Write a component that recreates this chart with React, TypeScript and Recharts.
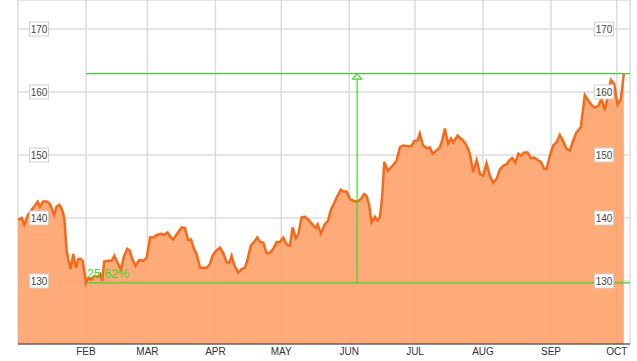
import React from "react";
import {
  ComposedChart,
  Area,
  XAxis,
  YAxis,
  CartesianGrid,
  ReferenceLine,
  ReferenceDot,
} from "recharts";

// day index since Jan 1
const days = [
  0, 1.7, 2.9, 4.4, 5.6, 9.0, 10.0, 11.5, 13.1, 14.6, 16.5, 17.6, 18.8, 19.9, 21.1, 22.2, 22.9, 24.0, 25.2, 26.4,
  27.5, 28.6, 29.5, 31.0, 32.0, 33.3, 34.8, 36.3, 37.4, 38.4, 39.3, 40.9, 42.7, 43.9, 45.4, 46.9, 48.4, 49.8, 51.0,
  52.1, 53.6, 55.2, 57.1, 58.7, 60.2, 61.7, 63.2, 65.2, 66.5, 68.2, 69.7, 70.8, 72.3, 74.6, 76.1, 77.6, 78.9, 80.2,
  81.4, 83.0, 86.0, 87.5, 88.7, 90.2, 92.1, 93.6, 95.1, 96.3, 97.4, 98.4, 100.4, 102.0, 103.5, 104.7, 106.1, 107.6,
  109.1, 110.3, 111.8, 113.4, 114.9, 116.4, 117.9, 119.4, 120.9, 122.5, 124.0, 125.2, 126.7, 127.8, 129.3, 130.8,
  132.8, 134.6, 135.7, 136.6, 138.1, 139.9, 141.4, 142.7, 143.7, 145.3, 147.2, 148.3, 149.8, 151.3, 153.3, 154.8,
  156.3, 157.8, 158.9, 160.0, 161.2, 162.7, 163.9, 165.0, 166.0, 167.0, 168.5, 170.3, 172.6, 174.1, 175.6, 177.9,
  179.4, 180.6, 182.2, 183.2, 184.5, 186.3, 187.8, 189.0, 190.8, 192.3, 193.4, 194.6, 196.1, 197.4, 198.4, 200.4,
  201.5, 203.0, 204.5, 206.0, 207.5, 209.1, 210.6, 212.1, 213.6, 215.1, 216.6, 218.2, 219.7, 221.2, 222.7, 223.9,
  225.3, 226.8, 228.1, 229.3, 230.8, 232.3, 233.8, 235.3, 236.9, 238.4, 239.9, 241.0, 242.5, 244.0, 245.5, 247.0,
  248.5, 250.1, 251.6, 253.1, 254.6, 256.6, 258.4, 259.9, 261.5, 263.0, 264.8, 266.0, 267.5, 268.8, 270.3, 271.8,
  273.3, 274.8, 276.2,
];

const prices = [
  139.7, 140.0, 138.9, 140.4, 141.0, 142.6, 141.8, 142.6, 142.6, 142.2, 140.5, 141.8, 142.1, 141.5, 140.1, 134.8,
  133.5, 131.9, 134.3, 132.1, 133.5, 133.5, 133.2, 129.7, 130.5, 130.2, 130.8, 130.6, 131.1, 130.0, 133.1, 133.2,
  133.2, 134.0, 132.9, 131.8, 134.0, 135.1, 134.8, 133.5, 132.4, 133.3, 133.2, 133.7, 136.9, 136.9, 137.3, 137.5,
  137.3, 137.7, 136.9, 136.6, 137.4, 138.5, 138.4, 136.5, 136.6, 135.1, 134.3, 132.1, 132.1, 132.7, 134.0, 134.8,
  135.3, 134.4, 133.0, 132.9, 134.0, 132.7, 131.3, 131.9, 132.1, 133.5, 135.6, 136.2, 136.9, 136.2, 136.1, 134.4,
  134.5, 135.1, 136.2, 136.2, 136.9, 135.8, 135.6, 138.5, 136.8, 137.4, 140.1, 140.2, 139.6, 138.8, 138.4, 139.0,
  137.5, 139.0, 139.6, 141.4, 142.0, 143.3, 144.5, 144.2, 144.2, 143.0, 142.7, 142.6, 143.0, 143.8, 143.5, 142.2,
  139.3, 140.2, 139.6, 140.1, 143.3, 148.9, 147.5, 148.1, 149.1, 151.2, 151.5, 151.4, 151.4, 152.2, 152.3, 153.4,
  151.6, 151.1, 151.2, 150.2, 150.7, 151.2, 152.3, 154.2, 151.8, 152.6, 152.0, 153.1, 152.7, 152.3, 151.5, 150.2,
  147.3, 149.2, 147.0, 146.7, 148.7, 146.7, 145.6, 146.2, 147.7, 148.3, 148.5, 149.1, 149.5, 148.8, 150.2, 149.9,
  150.4, 150.4, 149.5, 149.6, 149.2, 148.9, 147.8, 147.8, 149.9, 151.5, 152.0, 153.2, 152.2, 151.0, 150.7, 152.3,
  153.6, 154.4, 159.5, 158.7, 157.9, 157.5, 157.9, 159.0, 157.1, 159.2, 161.9, 161.3, 158.0, 158.8, 162.9,
];

const monthTicks = [31, 59, 90, 120, 151, 181, 212, 243, 273];
const monthLabels = ["FEB", "MAR", "APR", "MAY", "JUN", "JUL", "AUG", "SEP", "OCT"];
const priceTicks = [130, 140, 150, 160, 170];

const lowDay = 31;
const lowValue = 129.7;
const highValue = 162.9;
const arrowDay = 154.6;
const changeLabel = "25.62%";

const data = days.map((d, i) => ({ day: d, price: prices[i] }));

const FONT = "'Liberation Sans', Arial, sans-serif";
const GREEN = "#3ed62c";
const Y_DOMAIN: [number, number] = [120, 174.6];

const LeftTick = (props: any) => {
  const { y, payload } = props;
  const x0 = 18;
  return (
    <g>
      <rect x={x0 + 11.5} y={y - 7} width={19} height={14} fill="#fff" stroke="#cfcfcf" />
      <text x={x0 + 21} y={y + 4} textAnchor="middle" fontSize={10} fill="#444" fontFamily={FONT}>
        {payload.value}
      </text>
    </g>
  );
};

const RightTick = (props: any) => {
  const { y, payload } = props;
  const x0 = 630;
  return (
    <g>
      <rect x={x0 - 35.5} y={y - 7} width={19} height={14} fill="#fff" stroke="#cfcfcf" />
      <text x={x0 - 26} y={y + 4} textAnchor="middle" fontSize={10} fill="#444" fontFamily={FONT}>
        {payload.value}
      </text>
    </g>
  );
};

const MonthTick = (props: any) => {
  const { x, y, payload } = props;
  const idx = monthTicks.indexOf(payload.value);
  return (
    <text x={x} y={y + 3} textAnchor="middle" fontSize={10} fill="#333" fontFamily={FONT}>
      {monthLabels[idx]}
    </text>
  );
};

const ArrowHead = (props: any) => {
  const { cx, cy } = props;
  return (
    <polygon
      points={`${cx},${cy} ${cx - 4.5},${cy + 5.5} ${cx + 4.5},${cy + 5.5}`}
      fill="#fff"
      stroke={GREEN}
      strokeWidth={1.2}
    />
  );
};

const PctLabel = (props: any) => {
  const { cx, cy } = props;
  return (
    <text x={cx + 1} y={cy - 5} fontSize={12.5} fill={GREEN} fontFamily={FONT}>
      {changeLabel}
    </text>
  );
};

export default function App() {
  return (
    <div style={{ position: "absolute", left: 0, top: 0, width: 637, height: 361, background: "#fff" }}>
      <ComposedChart width={637} height={361} data={data} margin={{ top: 0, right: 5, bottom: 0, left: 16 }}>
        <CartesianGrid yAxisId="l" stroke="#dcdcdc" strokeWidth={1.5} />
        <XAxis
          dataKey="day"
          type="number"
          domain={[0, 279]}
          ticks={monthTicks}
          tick={<MonthTick />}
          tickLine={false}
          axisLine={{ stroke: "#333", strokeWidth: 1.2 }}
          height={17}
          interval={0}
        />
        <YAxis
          yAxisId="l"
          domain={Y_DOMAIN}
          ticks={priceTicks}
          width={2}
          axisLine={false}
          tickLine={false}
          tick={<LeftTick />}
          allowDataOverflow
        />
        <YAxis
          yAxisId="r"
          orientation="right"
          domain={Y_DOMAIN}
          ticks={priceTicks}
          width={2}
          axisLine={false}
          tickLine={false}
          tick={<RightTick />}
          allowDataOverflow
        />
        <Area
          yAxisId="l"
          type="linear"
          dataKey="price"
          stroke="#f26a1b"
          strokeWidth={2.5}
          fill="#ff9f66"
          fillOpacity={0.88}
          isAnimationActive={false}
          dot={false}
          activeDot={false}
        />
        <ReferenceLine
          yAxisId="l"
          segment={[{ x: lowDay, y: lowValue }, { x: 279, y: lowValue }]}
          stroke={GREEN}
          strokeWidth={1.2}
        />
        <ReferenceLine
          yAxisId="l"
          segment={[{ x: lowDay, y: highValue }, { x: 279, y: highValue }]}
          stroke={GREEN}
          strokeWidth={1.2}
        />
        <ReferenceLine
          yAxisId="l"
          segment={[{ x: arrowDay, y: lowValue }, { x: arrowDay, y: highValue }]}
          stroke={GREEN}
          strokeWidth={1.2}
        />
        <ReferenceDot yAxisId="l" x={arrowDay} y={highValue} r={0} shape={<ArrowHead />} />
        <ReferenceDot yAxisId="l" x={lowDay} y={lowValue} r={0} shape={<PctLabel />} />
      </ComposedChart>
    </div>
  );
}
